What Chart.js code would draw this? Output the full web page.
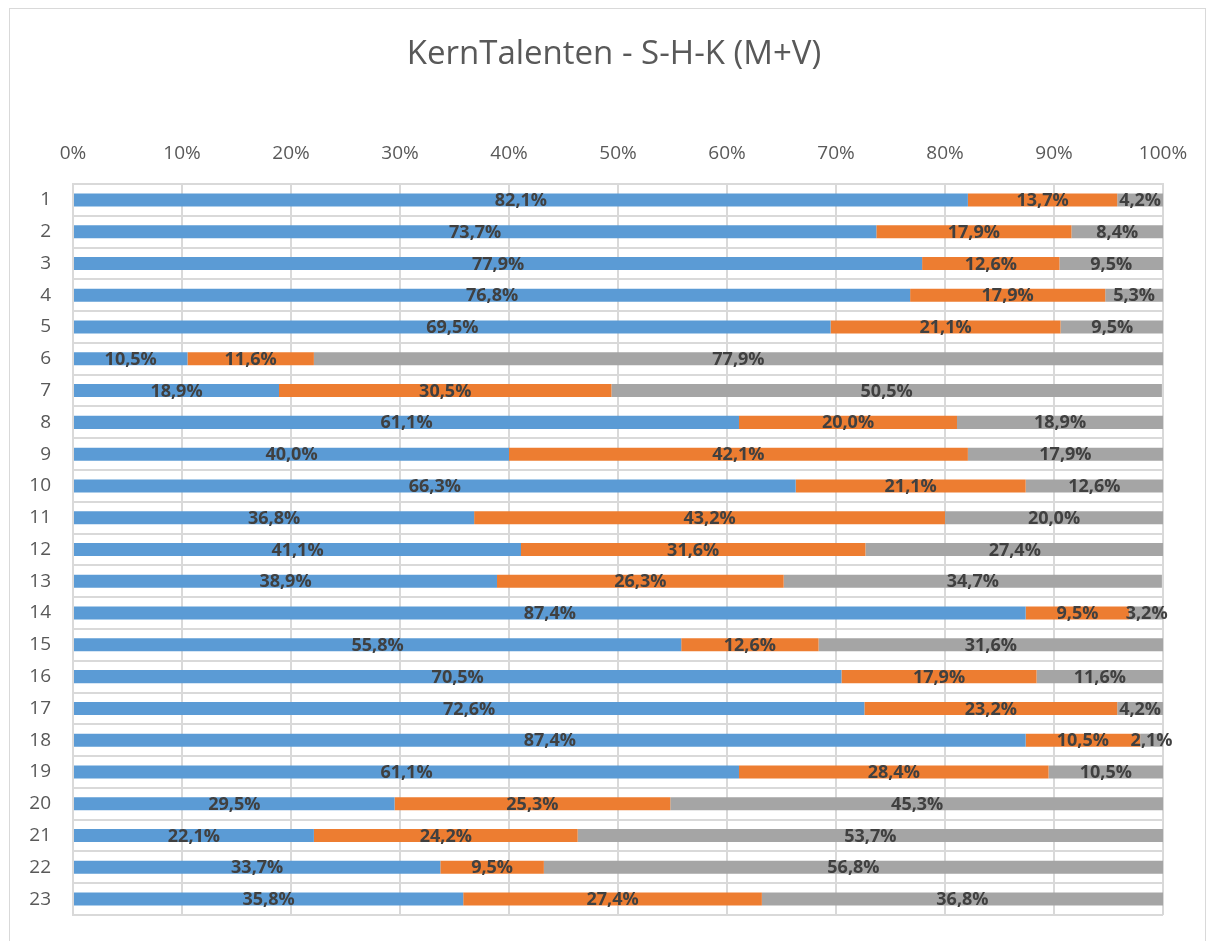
<!DOCTYPE html>
<html>
<head>
<meta charset="utf-8">
<script src="https://cdn.jsdelivr.net/npm/chart.js@4/dist/chart.umd.min.js"></script>
<style>
  html, body { margin: 0; padding: 0; background: #fff; }
  #wrap { width: 1214px; height: 941px; position: relative; }
</style>
</head>
<body>
<div id="wrap"><canvas id="kernChart"></canvas></div>
<script>
// categorieën (vragen 1..23)
const categories = ['1','2','3','4','5','6','7','8','9','10','11','12','13','14','15','16','17','18','19','20','21','22','23'];

// percentages per reeks
const serieBlauw = [82.1, 73.7, 77.9, 76.8, 69.5, 10.5, 18.9, 61.1, 40.0, 66.3, 36.8, 41.1, 38.9, 87.4, 55.8, 70.5, 72.6, 87.4, 61.1, 29.5, 22.1, 33.7, 35.8];
const serieOranje = [13.7, 17.9, 12.6, 17.9, 21.1, 11.6, 30.5, 20.0, 42.1, 21.1, 43.2, 31.6, 26.3, 9.5, 12.6, 17.9, 23.2, 10.5, 28.4, 25.3, 24.2, 9.5, 27.4];
const serieGrijs = [4.2, 8.4, 9.5, 5.3, 9.5, 77.9, 50.5, 18.9, 17.9, 12.6, 20.0, 27.4, 34.7, 3.2, 31.6, 11.6, 4.2, 2.1, 10.5, 45.3, 53.7, 56.8, 36.8];

// as-labels
const tickValues = [0, 10, 20, 30, 40, 50, 60, 70, 80, 90, 100];

const chartTitle = 'KernTalenten - S-H-K (M+V)';

const fmt = v => v.toFixed(1).replace('.', ',') + '%';

// labels midden in elk segment
const segmentLabels = {
    id: 'segmentLabels',
    afterDatasetsDraw(chart) {
        const ctx = chart.ctx;
        ctx.save();
        ctx.font = 'bold 18px "Open Sans"';
        ctx.fillStyle = '#404040';
        ctx.textAlign = 'center';
        ctx.textBaseline = 'middle';
        chart.data.datasets.forEach((ds, i) => {
            chart.getDatasetMeta(i).data.forEach((bar, j) => {
                const x = (bar.x + bar.base) / 2;
                ctx.fillText(fmt(ds.data[j]), x, bar.y + 1);
            });
        });
        ctx.restore();
    }
};

// kader + titel (gecentreerd op het hele vlak)
const outerFrame = {
    id: 'outerFrame',
    beforeDraw(chart) {
        const ctx = chart.ctx;
        ctx.save();
        ctx.strokeStyle = '#d9d9d9';
        ctx.lineWidth = 1;
        ctx.strokeRect(9.5, 8.5, chart.width - 18, chart.height + 10);
        ctx.font = '33px "Open Sans"';
        ctx.fillStyle = '#595959';
        ctx.textAlign = 'center';
        ctx.textBaseline = 'middle';
        ctx.fillText(chartTitle, 614, 55);
        ctx.restore();
    }
};

new Chart(document.getElementById('kernChart'), {
    type: 'bar',
    data: {
        labels: categories,
        datasets: [
            { label: 'Blauw', data: serieBlauw, backgroundColor: '#5B9BD5' },
            { label: 'Oranje', data: serieOranje, backgroundColor: '#ED7D31' },
            { label: 'Grijs', data: serieGrijs, backgroundColor: '#A5A5A5' }
        ]
    },
    options: {
        indexAxis: 'y',
        responsive: true,
        maintainAspectRatio: false,
        animation: false,
        datasets: { bar: { barPercentage: 0.41, categoryPercentage: 1.0 } },
        layout: { padding: { left: 20, right: 51, top: 0, bottom: 26 } },
        plugins: {
            legend: { display: false },
            tooltip: { enabled: false },
            title: { display: false }
        },
        scales: {
            x: {
                position: 'top',
                stacked: true,
                min: 0,
                max: 100,
                afterBuildTicks: scale => { scale.ticks = tickValues.map(v => ({ value: v })); },
                afterFit: scale => { scale.height = 184; },
                ticks: {
                    color: '#595959',
                    font: { family: '"Open Sans"', size: 19 },
                    padding: 19,
                    callback: v => v + '%'
                },
                grid: { color: '#d9d9d9', lineWidth: 2, drawTicks: false },
                border: { color: '#d9d9d9', width: 2 }
            },
            y: {
                stacked: true,
                afterFit: scale => { scale.width = 53; },
                ticks: {
                    color: '#595959',
                    font: { family: '"Open Sans"', size: 19 },
                    padding: 12
                },
                grid: { color: '#d9d9d9', lineWidth: 2, drawTicks: true, tickLength: 10, tickColor: 'rgba(0,0,0,0)', offset: true },
                border: { color: '#d9d9d9', width: 2 }
            }
        }
    },
    plugins: [outerFrame, segmentLabels]
});
</script>
</body>
</html>
